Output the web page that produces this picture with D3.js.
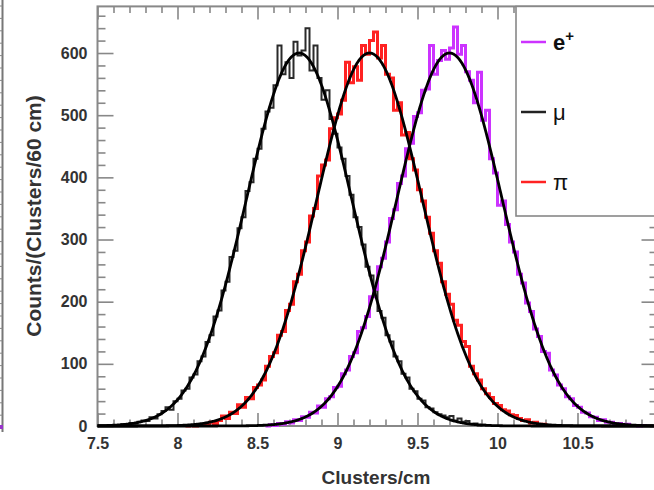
<!DOCTYPE html>
<html>
<head>
<meta charset="utf-8">
<script src="https://cdn.jsdelivr.net/npm/d3@7"></script>
<style>
  html, body { margin: 0; padding: 0; background: #fff; }
  svg { display: block; }
  text { font-family: "Liberation Sans", Arial, sans-serif; }
</style>
</head>
<body>
<svg id="chart" width="654" height="490"></svg>
<script>
// ---------------- DATA ----------------
const binWidth = 0.025;
// muon histogram (bins start at 7.6)
const muStart = 7.6;
const muCounts = [1,0,3,2,5,4,7,9,8,14,12,19,
  24,30,26,40,44,57,60,78,83,104,112,135,
  146,176,186,218,232,272,282,318,336,378,392,430,
  446,478,506,512,548,612,566,585,560,618,596,
  604,640,572,612,560,525,540,494,470,448,430,402,372,336,320,292,256,242,218,185,
  174,146,136,112,104,84,78,60,56,44,41,30,28,22,19,17,14,16,9,12,7,8,3,4,1,2];
// pion histogram (bins start at 8.05)
const piStart = 8.05;
const piCounts = [0,1,0,2,1,3,6,4,9,16,
  12,22,20,34,30,46,44,62,66,74,
  96,112,118,146,152,186,196,232,244,282,
  296,338,350,402,420,428,478,496,502,524,
  585,552,578,556,612,598,620,634,592,612,
  566,560,508,520,468,472,430,412,380,362,
  336,310,282,262,232,212,196,170,162,136,128,
  96,84,74,60,52,46,36,33,26,24,18,17,12,9,10,5,6,2,3,1,1];
// positron histogram (bins start at 8.55)
const eStart = 8.55;
const eCounts = [0,2,1,4,3,7,5,10,9,15,
  14,22,21,32,30,44,47,62,64,84,
  90,112,118,152,158,176,208,220,256,270,
  296,334,348,390,402,446,455,498,504,540,
  542,612,566,588,604,590,608,642,598,612,
  570,556,520,569,492,508,430,407,355,362,
  324,296,280,244,230,198,184,156,144,120,
  117,90,82,66,60,47,44,33,30,22,
  21,15,14,9,10,6,6,4,4,2,
  3,1,1,0,1];

// Gaussian fit parameters: e+, mu, pi
const fitNames = ["e+", "mu", "pi"];
const fitMean  = [9.70, 8.76, 9.20];
const fitSigma = [0.33, 0.33, 0.33];
const fitAmp   = [600, 600, 600];

const xTicks = [7.5, 8, 8.5, 9, 9.5, 10, 10.5];
const yTicks = [0, 100, 200, 300, 400, 500, 600];
const xDomain = [7.5, 11];
const yDomain = [0, 675];

const legendLabels = ["e", "\u03bc", "\u03c0"];
const legendColors = ["#cc33ff", "#222222", "#ff2222"];

// ---------------- CHART ----------------
const svg = d3.select("#chart");
const x = d3.scaleLinear().domain(xDomain).range([97.5, 657.5]);
const y = d3.scaleLinear().domain(yDomain).range([426, 6.4]);
const axisGray = "#888";
const labelColor = "#333";

// remnant of neighbouring panel at the far left
const rem = svg.append("g");
rem.append("line").attr("x1", 2.5).attr("x2", 2.5).attr("y1", 0).attr("y2", 432)
  .attr("stroke", "#777").attr("stroke-width", 2);
d3.range(6, 430, 12.4).forEach(v => {
  rem.append("line").attr("x1", 0).attr("x2", 2.5).attr("y1", v).attr("y2", v)
    .attr("stroke", "#888").attr("stroke-width", 1);
});
rem.append("rect").attr("x", 0).attr("y", 425).attr("width", 3).attr("height", 4).attr("fill", "#9933cc");

// axes
function styleAxis(g) {
  g.select(".domain").remove();
  g.selectAll(".tick line").attr("stroke", axisGray).attr("stroke-width", 1.6);
  g.selectAll(".tick text").attr("fill", labelColor)
    .style("font-size", "16px").style("font-weight", "bold")
    .style("font-family", "'Liberation Sans', Arial, sans-serif");
}
const xMinor = d3.range(75, 111).map(v => v / 10).filter(v => !xTicks.includes(v) && v < 11);
const yMinor = d3.range(0, 675, 20).filter(v => v % 100 !== 0);

// bottom
svg.append("g").attr("transform", "translate(0,426)")
  .call(d3.axisBottom(x).tickValues(xTicks).tickFormat(d => String(d)).tickSizeInner(-13).tickSizeOuter(0).tickPadding(12))
  .call(styleAxis);
svg.append("g").attr("transform", "translate(0,426)")
  .call(d3.axisBottom(x).tickValues(xMinor).tickFormat("").tickSizeInner(-6.5).tickSizeOuter(0))
  .call(styleAxis);
// top
svg.append("g").attr("transform", "translate(0,6.4)")
  .call(d3.axisTop(x).tickValues(xTicks).tickFormat("").tickSizeInner(-13).tickSizeOuter(0))
  .call(styleAxis);
svg.append("g").attr("transform", "translate(0,6.4)")
  .call(d3.axisTop(x).tickValues(xMinor).tickFormat("").tickSizeInner(-6.5).tickSizeOuter(0))
  .call(styleAxis);
// left
svg.append("g").attr("transform", "translate(97.5,0)")
  .call(d3.axisLeft(y).tickValues(yTicks).tickFormat(d => String(d)).tickSizeInner(-16).tickSizeOuter(0).tickPadding(10))
  .call(styleAxis);
svg.append("g").attr("transform", "translate(97.5,0)")
  .call(d3.axisLeft(y).tickValues(yMinor).tickFormat("").tickSizeInner(-8).tickSizeOuter(0))
  .call(styleAxis);
// right
svg.append("g").attr("transform", "translate(657.5,0)")
  .call(d3.axisRight(y).tickValues(yTicks).tickFormat("").tickSizeInner(-16).tickSizeOuter(0))
  .call(styleAxis);
svg.append("g").attr("transform", "translate(657.5,0)")
  .call(d3.axisRight(y).tickValues(yMinor).tickFormat("").tickSizeInner(-8).tickSizeOuter(0))
  .call(styleAxis);

// frame
svg.append("rect").attr("x", 97.5).attr("y", 6.4).attr("width", 560).attr("height", 419.6)
  .attr("fill", "none").attr("stroke", axisGray).attr("stroke-width", 2);

// histograms
function histPoints(start, counts) {
  const pts = [[start, 0]];
  counts.forEach((c, i) => {
    const lo = start + i * binWidth, hi = lo + binWidth;
    pts.push([lo, c], [hi, c]);
  });
  pts.push([start + counts.length * binWidth, 0]);
  return pts;
}
const line = d3.line().x(d => x(d[0])).y(d => y(d[1]));
const hists = [
  { start: muStart, counts: muCounts, color: "#2a2a2a", w: 2 },
  { start: piStart, counts: piCounts, color: "#ff2222", w: 3 },
  { start: eStart, counts: eCounts, color: "#cc33ff", w: 3 }
];
hists.forEach(h => {
  svg.append("path").datum(histPoints(h.start, h.counts))
    .attr("d", line).attr("fill", "none").attr("stroke", h.color)
    .attr("stroke-width", h.w).attr("stroke-linejoin", "miter");
});

// fit curves
const xs = d3.range(xDomain[0], xDomain[1] + 0.001, 0.005);
fitMean.forEach((m, i) => {
  const pts = xs.map(v => [v, fitAmp[i] * Math.exp(-((v - m) ** 2) / (2 * fitSigma[i] ** 2))]);
  svg.append("path").datum(pts).attr("d", line).attr("fill", "none")
    .attr("stroke", "#000").attr("stroke-width", 2.8);
});

// legend
const lg = svg.append("g");
lg.append("rect").attr("x", 516).attr("y", 6.4).attr("width", 160).attr("height", 209.6)
  .attr("fill", "#fff").attr("stroke", axisGray).attr("stroke-width", 1.6);
const legendY = [42, 112, 182];
legendLabels.forEach((lab, i) => {
  lg.append("line").attr("x1", 521).attr("x2", 546).attr("y1", legendY[i]).attr("y2", legendY[i])
    .attr("stroke", legendColors[i]).attr("stroke-width", 2.5);
  const t = lg.append("text").attr("x", 553).attr("y", legendY[i] + 8)
    .attr("fill", "#111").style("font-size", "22px");
  if (i === 0) {
    t.style("font-weight", "bold").text(lab);
    t.append("tspan").attr("dy", -9).style("font-size", "15px").text("+");
  } else {
    t.text(lab);
  }
});

// axis titles
svg.append("text").attr("x", 376).attr("y", 484).attr("text-anchor", "middle")
  .attr("fill", labelColor).style("font-size", "19px").style("font-weight", "bold")
  .text("Clusters/cm");
svg.append("text").attr("transform", "translate(41,216) rotate(-90)").attr("text-anchor", "middle")
  .attr("fill", labelColor).style("font-size", "21px").style("font-weight", "bold")
  .text("Counts/(Clusters/60 cm)");
</script>
</body>
</html>
